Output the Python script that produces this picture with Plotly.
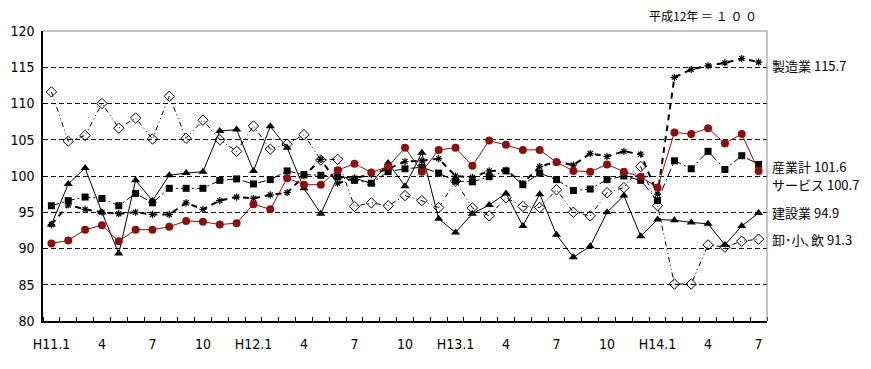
import plotly.graph_objects as go

# ---- data ----
months = list(range(43))  # H11.1 .. H14.7
tick_idx = [0, 3, 6, 9, 12, 15, 18, 21, 24, 27, 30, 33, 36, 39, 42]
tick_text = ["H11.1", "4", "7", "10", "H12.1", "4", "7", "10", "H13.1", "4", "7", "10", "H14.1", "4", "7"]

sangyokei = [95.9, 96.6, 97.1, 96.9, 95.9, 97.6, 96.3, 98.3, 98.3, 98.3, 99.4, 99.6, 98.9, 99.5,
             100.7, 100.2, 100.1, 99.9, 99.4, 99.0, 100.6, 101.0, 101.2, 100.4, 99.3, 99.2, 99.9,
             100.7, 98.8, 100.4, 99.5, 98.0, 98.2, 99.5, 100.0, 99.4, 96.6, 102.1, 101.0, 103.4,
             100.9, 102.8, 101.6]
seizo = [93.3, 96.0, 95.4, 95.0, 94.8, 95.0, 94.7, 94.7, 96.3, 95.4, 96.6, 97.1, 96.9, 97.4,
         97.7, 100.0, 102.3, 99.0, 99.7, 100.2, 101.0, 102.0, 102.1, 102.4, 100.0, 99.8, 100.7,
         100.8, 99.0, 101.3, 102.0, 101.5, 103.1, 102.7, 103.4, 103.0, 97.5, 113.6, 114.7, 115.2,
         115.6, 116.2, 115.7]
kensetsu = [93.3, 98.9, 101.1, 95.0, 89.3, 99.4, 96.6, 100.1, 100.4, 100.6, 106.2, 106.4, 100.7,
            106.85, 103.9, 98.3, 94.8, 99.9, 99.7, 99.0, 101.8, 98.6, 103.2, 94.1, 92.2, 94.8,
            96.0, 97.6, 93.1, 97.5, 91.9, 88.8, 90.3, 95.0, 97.3, 91.7, 94.0, 93.9, 93.6, 93.4,
            90.5, 93.1, 94.9]
oroshi = [111.6, 104.8, 105.6, 110.0, 106.6, 108.0, 105.1, 111.0, 105.2, 107.7, 105.0, 103.4,
          106.9, 103.7, 104.4, 105.7, 102.2, 102.3, 95.8, 96.3, 95.9, 97.3, 96.6, 95.65, 99.3,
          95.6, 94.5, 97.0, 95.8, 95.65, 98.1, 95.0, 94.5, 97.7, 98.4, 101.3, 95.9, 85.1, 85.1,
          90.5, 90.2, 91.0, 91.3]
service = [90.7, 91.1, 92.6, 93.2, 91.0, 92.6, 92.6, 93.0, 93.8, 93.7, 93.3, 93.5, 96.1, 95.4,
           99.7, 98.8, 98.8, 100.8, 101.7, 100.5, 101.3, 103.9, 100.6, 103.6, 103.9, 101.4, 104.9,
           104.3, 103.6, 103.6, 101.9, 100.7, 100.6, 101.6, 100.6, 99.9, 98.4, 106.0, 105.8, 106.6,
           104.5, 105.8, 100.7]

labels = ["製造業 115.7", "産業計 101.6", "サービス 100.7", "建設業 94.9", "卸･小､飲 91.3"]
label_y = [115.3, 101.3, 98.8, 95.0, 91.2]

FONT = "Noto Sans CJK JP"
TICKFONT = "Liberation Sans Narrow, DejaVu Sans Condensed, Noto Sans CJK JP"
RED = "#8B1010"

fig = go.Figure()

fig.add_trace(go.Scatter(x=months, y=oroshi, mode="lines+markers",
                         line=dict(color="black", width=1, dash="5px,3px,1px,3px,1px,3px"),
                         marker=dict(symbol="diamond-open", size=8, color="black",
                                     line=dict(width=1, color="black"))))
fig.add_trace(go.Scatter(x=months, y=seizo, mode="lines+markers",
                         line=dict(color="black", width=2, dash="6px,5px"),
                         marker=dict(symbol="asterisk-open", size=6, color="black",
                                     line=dict(width=1.2, color="black"))))
fig.add_trace(go.Scatter(x=months, y=sangyokei, mode="lines+markers",
                         line=dict(color="black", width=1, dash="8px,3px,2px,3px"),
                         marker=dict(symbol="square", size=7, color="black")))
fig.add_trace(go.Scatter(x=months, y=kensetsu, mode="lines+markers",
                         line=dict(color="black", width=1),
                         marker=dict(symbol="triangle-up", size=8, color="black")))
fig.add_trace(go.Scatter(x=months, y=service, mode="lines+markers",
                         line=dict(color=RED, width=1),
                         marker=dict(symbol="circle", size=8, color=RED)))

for t, yv in zip(labels, label_y):
    fig.add_annotation(x=1.0, xref="paper", y=yv, yref="y", text=t, showarrow=False,
                       xanchor="left", xshift=3, font=dict(family=FONT, size=13, color="black"))

fig.add_annotation(x=1.0, xref="paper", y=1.0, yref="paper", text="平成12年 ＝ １ ０ ０",
                   showarrow=False, xanchor="right", yanchor="bottom", yshift=5, xshift=-8,
                   font=dict(family=FONT, size=12, color="black"))

# gray top/right border
fig.add_shape(type="line", xref="paper", yref="paper", x0=0, x1=1, y0=1, y1=1,
              line=dict(color="#888888", width=1))
fig.add_shape(type="line", xref="paper", yref="paper", x0=1, x1=1, y0=0, y1=1,
              line=dict(color="#888888", width=1))

fig.update_layout(
    width=863, height=361,
    margin=dict(l=35, r=104, t=23, b=48),
    paper_bgcolor="white", plot_bgcolor="white",
    showlegend=False,
    font=dict(family=FONT, size=13, color="black"),
)
fig.update_xaxes(range=[-0.5, 42.5], tickvals=tick_idx, ticktext=tick_text, automargin=False,
                 showgrid=False, zeroline=False, showline=True, linecolor="black", linewidth=1.5,
                 ticks="", ticklabelstandoff=9,
                 tickfont=dict(family=TICKFONT, size=14),
                 minor=dict(tick0=-0.5, dtick=1, ticks="inside", ticklen=4, tickcolor="black",
                            showgrid=False))
fig.update_yaxes(range=[80, 120], tickvals=[80, 85, 90, 95, 100, 105, 110, 115, 120], automargin=False,
                 showgrid=True, gridcolor="black", griddash="5px,3px", gridwidth=1,
                 zeroline=False, showline=True, linecolor="black", linewidth=1.5,
                 ticks="", ticklabelstandoff=4,
                 tickfont=dict(family=TICKFONT, size=14))

fig.write_html("out.html")
